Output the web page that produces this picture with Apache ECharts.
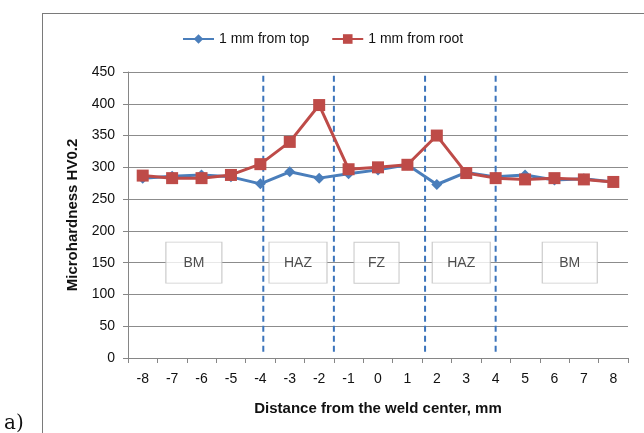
<!DOCTYPE html>
<html>
<head>
<meta charset="utf-8" />
<title></title>
<script src="https://cdn.jsdelivr.net/npm/echarts@6/dist/echarts.min.js"></script>
<style type="text/css">
html,body{margin:0;padding:0;width:100%;height:100%;background:#fff;}
#frame{position:absolute;left:42px;top:13px;width:700px;height:500px;border-left:1px solid #7a7a7a;border-top:1px solid #7a7a7a;}
#chart{position:absolute;left:0;top:0;width:644px;height:433px;}
#tag{position:absolute;left:4px;top:410px;font-family:"DejaVu Serif",serif;font-size:20px;color:#111;}
</style>
</head>
<body>
<div id="frame"></div>
<div id="chart"></div>
<div id="tag">a)</div>
<script>
var distances = ['-8','-7','-6','-5','-4','-3','-2','-1','0','1','2','3','4','5','6','7','8'];
var fromTop  = [283, 286, 288, 285, 274, 293, 283, 290, 296, 304, 273, 292, 285, 288, 280, 282, 277];
var fromRoot = [287, 283, 283, 288, 305, 340, 398, 297, 300, 304, 350, 291, 283, 281, 283, 281, 277];
// zone boundaries (distance in mm, on a continuous scale)
var boundaries = [-3.9, -1.5, 1.6, 4];
var zoneNames = ['BM', 'HAZ', 'FZ', 'HAZ', 'BM'];
var zoneCenters = [-6.26, -2.72, -0.05, 2.83, 6.52];
var zoneWidths = [56, 58, 45, 58, 55];

var font = '"Liberation Sans", Arial, sans-serif';
var myChart = echarts.init(document.getElementById('chart'));

var series = [{
	name: '1 mm from top',
	type: 'line',
	data: fromTop,
	symbol: 'diamond',
	symbolSize: 11,
	lineStyle: { color: '#4a7ebb', width: 3 },
	itemStyle: { color: '#4a7ebb' },
	z: 3
}, {
	name: '1 mm from root',
	type: 'line',
	data: fromRoot,
	symbol: 'rect',
	symbolSize: 12,
	lineStyle: { color: '#be4b48', width: 3 },
	itemStyle: { color: '#be4b48' },
	z: 4
}];

for (var i = 0; i < boundaries.length; i++) {
	series.push({
		type: 'line',
		xAxisIndex: 1,
		data: [[boundaries[i], 10], [boundaries[i], 445]],
		symbol: 'none',
		silent: true,
		lineStyle: { color: '#3c74bb', width: 2, type: [6, 4] },
		z: 2
	});
}

series.push({
	type: 'scatter',
	xAxisIndex: 1,
	silent: true,
	symbol: 'rect',
	data: zoneNames.map(function(n, i) {
		return { value: [zoneCenters[i], 150], name: n, symbolSize: [zoneWidths[i], 41] };
	}),
	itemStyle: { color: '#fff', borderColor: '#bdbdbd', borderWidth: 1 },
	label: { show: true, position: 'inside', formatter: '{b}', color: '#222', fontSize: 14, fontFamily: font },
	z: 1
});

var option = {
	animation: false,
	legend: {
		top: 27,
		left: 177,
		itemGap: 22,
		itemWidth: 31,
		itemHeight: 12,
		data: ['1 mm from top', '1 mm from root'],
		textStyle: { fontSize: 14, fontFamily: font, color: '#111' }
	},
	grid: { left: 128, top: 72, right: 16, bottom: 75 },
	xAxis: [{
		type: 'category',
		data: distances,
		boundaryGap: true,
		name: 'Distance from the weld center, mm',
		nameLocation: 'middle',
		nameGap: 43,
		nameTextStyle: { fontSize: 15, fontWeight: 'bold', fontFamily: font, color: '#111' },
		axisLine: { lineStyle: { color: '#868686' } },
		axisTick: { show: true, length: 5, lineStyle: { color: '#868686' } },
		axisLabel: { fontSize: 14, fontFamily: font, color: '#111', margin: 14 }
	}, {
		type: 'value',
		min: -8.5,
		max: 8.5,
		show: false
	}],
	yAxis: {
		type: 'value',
		min: 0,
		max: 450,
		interval: 50,
		name: 'Microhardness HV0.2',
		nameLocation: 'middle',
		nameGap: 42,
		nameTextStyle: { fontSize: 15, fontWeight: 'bold', fontFamily: font, color: '#111' },
		axisLine: { show: true, onZero: false, lineStyle: { color: '#868686' } },
		axisTick: { show: true, length: 5, lineStyle: { color: '#868686' } },
		axisLabel: { fontSize: 14, fontFamily: font, color: '#111', margin: 13 },
		splitLine: { lineStyle: { color: '#8c8c8c' } }
	},
	series: series
};
myChart.setOption(option);
</script>
</body>
</html>
